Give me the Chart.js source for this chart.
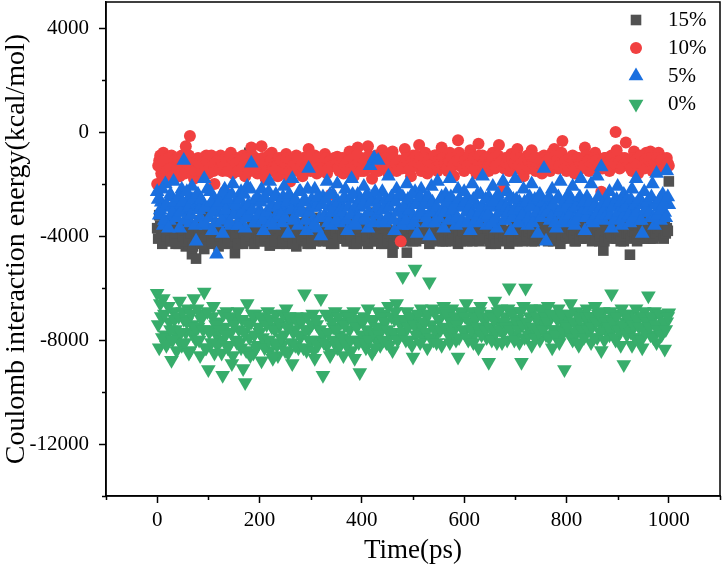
<!DOCTYPE html>
<html>
<head>
<meta charset="utf-8">
<script src="https://cdn.jsdelivr.net/npm/chart.js@4.4.0/dist/chart.umd.min.js"></script>
<style>
  body { margin: 0; background: #fff; }
  canvas { display: block; }
</style>
</head>
<body>
<canvas id="myChart" width="722" height="575"></canvas>
<script>
// values read off the plot; each series is sampled every 4 ps,
// the "b" arrays hold the samples in between (2 ps later)
const step = 4;

const labels = ['15%', '10%', '5%', '0%'];
const colors = ['#515151', '#F14040', '#1A6FDF', '#37AD6B'];

const xTicks = [0, 200, 400, 600, 800, 1000];
const xMinor = [-100, 100, 300, 500, 700, 900, 1100];
const yTicks = [-12000, -8000, -4000, 0, 4000];
const yMinor = [-14000, -10000, -6000, -2000, 2000];

const e15 = [
  -3700, -3200, -4000, -2800, -3600, -4200, -3400, -3900, -3000, -4300,
  -3500, -4100, -2900, -3800, -4400, -3300, -3900, -4700, -3600, -4870,
  -4200, -3400, -3900, -4500, -3100, -4000, -3700, -4300, -2900, -3800,
  -4400, -3500, -4100, -3200, -3900, -4300, -3600, -3000, -4660, -3800,
  -4000, -3400, -4300, -3700, -3200, -800, -4100, -3600, -3900, -4200,
  -3500, -4000, -3300, -3800, -4200, -4370, -3600, -3100, -4000, -3700,
  -4300, -3400, -3900, -4300, -3600, -4100, -3200, -3800, -4400, -3500,
  -4000, -3600, -4200, -3100, -3800, -4300, -3500, -3900, -4100, -3300,
  -3800, -4200, -3400, -4000, -3700, -4300, -3200, -3900, -4100, -1050,
  -3600, -4000, -3300, -4200, -3700, -3900, -4300, -3500, -4100, -3800,
  -4200, -3400, -3900, -4300, -3600, -4000, -3100, -3800, -4200, -3500,
  -3900, -4300, -3600, -4100, -3300, -4640, -3800, -4000, -3500, -4200,
  -3700, -4100, -4640, -3400, -3900, -4200, -3600, -4000, -3300, -3800,
  -4100, -3500, -3900, -4300, -3700, -3200, -4000, -3600, -4200, -3800,
  -3400, -4200, -3800, -3500, -4100, -3700, -3900, -4300, -3600, -4000,
  -3800, -4100, -3500, -3900, -4200, -3400, -3700, -4000, -3600, -4100,
  -3900, -3500, -4000, -4300, -3700, -3400, -4100, -3800, -3600, -4200,
  -3800, -3300, -4300, -4000, -3600, -3900, -4200, -3500, -3800, -4100,
  -3700, -4000, -3400, -4200, -3900, -3500, -4100, -3700, -3300, -4000,
  -3800, -4200, -3600, -3900, -3400, -4100, -3700, -4300, -3500, -3900,
  -4050, -3600, -4000, -3400, -4200, -3800, -3500, -4100, -3700, -3900,
  -3500, -4100, -3800, -3300, -4000, -3700, -4200, -3600, -4560, -3900,
  -3700, -4000, -3400, -3800, -1050, -4100, -3600, -3900, -4200, -3500,
  -3800, -4720, -3600, -4000, -3400, -3900, -4100, -3700, -3300, -4000,
  -3600, -4100, -3800, -3500, -4000, -3700, -3400, -3900, -3600, -3700,
  -1900
];
const e15b = [
  -4100, -3600, -4300, -3800, -4000, -3500, -4200, -3700, -4100, -3900,
  -4300, -3700, -4000, -4200, -3600, -4100, -3900, -4400, -3800, -4200,
  -3900, -4300, -3600, -4100, -4000, -3700, -4200, -3900, -4100, -3600,
  -4000, -3800, -4300, -3700, -4100, -3900, -4200, -3800, -4000, -4300,
  -3700, -4100, -3900, -4200, -3800, -4000, -3600, -4300, -3900, -4100,
  -4200, -3800, -4100, -3700, -4000, -4300, -3900, -4200, -3600, -4100,
  -3900, -4200, -3800, -4100, -4000, -3700, -4300, -3900, -4100, -3800,
  -4100, -3800, -4000, -4300, -3700, -4100, -3900, -4200, -3800, -4000,
  -3900, -4100, -3700, -4200, -3900, -4000, -4300, -3800, -4100, -3700,
  -4000, -3800, -4200, -3900, -4100, -3700, -4000, -4300, -3800, -4100,
  -3800, -4100, -4000, -3700, -4200, -3900, -4100, -3800, -4000, -4300,
  -4100, -3700, -4200, -3900, -4000, -4300, -3800, -4100, -3900, -3700,
  -4000, -4200, -3800, -4100, -3700, -4000, -4200, -3900, -4100, -3800,
  -3900, -4100, -3800, -4200, -3900, -4000, -3700, -4100, -3900, -4200,
  -4100, -3800, -4000, -4200, -3900, -4100, -3700, -4000, -4200, -3800,
  -3900, -4200, -3800, -4000, -3700, -4100, -3900, -4200, -3800, -4000,
  -4100, -3700, -4200, -3900, -4000, -4300, -3800, -4100, -3900, -4000,
  -3900, -4100, -3800, -4200, -4000, -3700, -4100, -3900, -4200, -3800,
  -4000, -3800, -4100, -3900, -4200, -3800, -4000, -3700, -4100, -3900,
  -4100, -3900, -4000, -4200, -3800, -4000, -3900, -4100, -3700, -4000,
  -3900, -4100, -3800, -4000, -4200, -3900, -4100, -3800, -4000, -3700,
  -4000, -3800, -4200, -3900, -4100, -3800, -4000, -3900, -4200, -3800,
  -4100, -3900, -4000, -3700, -4100, -3900, -4200, -3800, -4000, -3900,
  -3900, -4100, -3800, -4000, -4200, -3900, -4000, -3700, -4100, -3900,
  -4000, -3800, -4100, -3900, -3700, -4000, -3800, -4100, -3900, -3800
];

const e10 = [
  -2000, -1100, -1600, -800, -1400, -1900, -1200, -900, -1500, -1000,
  -1300, -1700, -900, -1200, -550, -1500, -150, -1100, -1800, -1300,
  -1000, -1400, -1700, -1200, -900, -1600, -1300, -1100, -2000, -1400,
  -1200, -900, -1500, -2300, -1100, -1300, -800, -1600, -1400, -1000,
  -1500, -1200, -900, -1700, -1300, -1100, -600, -1400, -1000, -1600,
  -1200, -550, -1400, -1800, -1000, -1300, -800, -1500, -1100, -1700,
  -1300, -1000, -1600, -850, -1200, -1900, -1100, -1400, -900, -1500,
  -1200, -1700, -1000, -1300, -650, -1500, -1100, -900, -1600, -1200,
  -1400, -1000, -850, -1600, -1200, -2400, -1100, -1300, -950, -1500,
  -1200, -1600, -1000, -1400, -750, -1300, -1700, -1100, -600, -1400,
  -1000, -1500, -1200, -550, -1300, -1800, -1100, -900, -1500, -1200,
  -700, -1400, -1100, -1600, -1000, -750, -1300, -1500, -1200, -4200,
  -1100, -650, -1400, -1200, -1700, -900, -1300, -1100, -500, -1500,
  -1200, -800, -1600, -1000, -1400, -1200, -900, -1500, -1100, -600,
  -1300, -1000, -1500, -800, -1200, -1700, -950, -320, -1300, -1100,
  -1500, -1000, -1200, -700, -1400, -1100, -1600, -450, -1200, -900,
  -1300, -1000, -1500, -1200, -800, -1400, -1100, -500, -1300, -2200,
  -1000, -1200, -1500, -850, -1300, -1100, -650, -1400, -1200, -1700,
  -1100, -900, -1400, -700, -1300, -1500, -1000, -1200, -1600, -900,
  -1300, -1100, -1500, -800, -650, -1200, -1400, -1000, -350, -1300,
  -1500, -1100, -1300, -900, -1600, -1200, -1000, -1400, -1100, -600,
  -1300, -1500, -1000, -1200, -800, -1400, -1100, -2300, -1300, -1000,
  -1200, -1500, -900, -1300, 0, -1100, -1400, -1000, -1200, -400,
  -1300, -1100, -1500, -750, -1200, -1600, -1000, -1300, -1400, -800,
  -1200, -750, -1500, -1100, -1300, -800, -1400, -1000, -1200, -1000,
  -1300
];
const e10b = [
  -1300, -900, -1700, -1100, -1500, -1000, -1400, -1700, -1100, -1300,
  -1100, -1400, -1000, -1600, -1200, -900, -1400, -1200, -1500, -1100,
  -1200, -1500, -1000, -1300, -1100, -1400, -900, -1500, -1200, -1100,
  -1400, -1100, -1300, -1000, -1500, -900, -1300, -1100, -1200, -1500,
  -1100, -1400, -1300, -1000, -1200, -1500, -900, -1200, -1400, -1100,
  -1300, -1000, -1200, -1500, -900, -1100, -1400, -1200, -1300, -1000,
  -1100, -1400, -1200, -1000, -1500, -1100, -1300, -1200, -1000, -1400,
  -1300, -1000, -1400, -1100, -1200, -900, -1400, -1300, -1000, -1500,
  -1200, -1300, -1000, -1400, -1100, -1300, -1000, -1200, -1400, -1100,
  -1000, -1300, -1200, -1100, -1400, -1000, -1300, -900, -1200, -1500,
  -1300, -1100, -1400, -900, -1200, -1100, -1400, -1000, -1300, -1100,
  -1200, -1000, -1300, -1200, -1400, -1000, -1200, -1300, -1100, -1400,
  -1300, -1000, -1200, -1400, -1100, -1300, -900, -1200, -1000, -1300,
  -1000, -1300, -1100, -1400, -1200, -900, -1300, -1100, -1200, -1000,
  -1200, -1400, -1100, -1000, -1300, -1200, -1100, -800, -1000, -1300,
  -1100, -1300, -900, -1200, -1000, -1400, -1100, -900, -1300, -1200,
  -1000, -1300, -1200, -1100, -1000, -1300, -900, -1200, -1100, -1400,
  -1200, -1000, -1300, -1100, -1200, -900, -1300, -1000, -1400, -1100,
  -1300, -1100, -900, -1200, -1000, -1300, -1200, -1100, -1400, -1000,
  -1100, -1300, -1000, -1200, -900, -1100, -1300, -800, -1200, -1100,
  -1300, -1000, -1200, -1100, -1400, -1000, -1200, -1100, -1300, -900,
  -1100, -1300, -1200, -1000, -1100, -1300, -1200, -1400, -1000, -1200,
  -1300, -1100, -1000, -1200, -700, -1200, -1100, -1300, -1000, -1100,
  -1200, -1400, -1000, -1100, -1300, -1200, -900, -1300, -1100, -1000,
  -1100, -1000, -1300, -1200, -1000, -1200, -1100, -1400, -1300, -1200
];

const e5 = [
  -2300, -3200, -2700, -3600, -2000, -2900, -3400, -2500, -1900, -3100,
  -2800, -3700, -2200, -1100, -3000, -2600, -3500, -2100, -2900, -4200,
  -2400, -3300, -2700, -1800, -3600, -2900, -2300, -3800, -2600, -4700,
  -3100, -2500, -3900, -2200, -3300, -2800, -3600, -2000, -3000, -2600,
  -3400, -2300, -2900, -3700, -2100, -3200, -1200, -2700, -3500, -2500,
  -3000, -2200, -3800, -2600, -3300, -1900, -2800, -3600, -2400, -3100,
  -2700, -3500, -2100, -3000, -3900, -2500, -1800, -3300, -2800, -3600,
  -2300, -3100, -2600, -3800, -1400, -2900, -3400, -2200, -3700, -2700,
  -4000, -2500, -3200, -1900, -2900, -3600, -2400, -3100, -2000, -3500,
  -2800, -3300, -2200, -3800, -2600, -1800, -3100, -3600, -2400, -2900,
  -3400, -2100, -2700, -3700, -1300, -2500, -1000, -3200, -1100, -3000,
  -2300, -3500, -2800, -1700, -3300, -2600, -3800, -2200, -3000, -3400,
  -2500, -3100, -2000, -3600, -2700, -3300, -2300, -3900, -2800, -2200,
  -3200, -2600, -3500, -4000, -2100, -2900, -3400, -1900, -3100, -2500,
  -3700, -2400, -3000, -1800, -3300, -2700, -3600, -2200, -2900, -3400,
  -2300, -3100, -2600, -3800, -2000, -3200, -2800, -3500, -2400, -1700,
  -3000, -3600, -2500, -3300, -2100, -2900, -3700, -2600, -3100, -1900,
  -3400, -2300, -2900, -3800, -2600, -1800, -3200, -2700, -3500, -2200,
  -3000, -3600, -2500, -2000, -3300, -2800, -3900, -2400, -3100, -1400,
  -4200, -2700, -3400, -2200, -3000, -3700, -2500, -1900, -3200, -2800,
  -3500, -2400, -3000, -2100, -3600, -2700, -3300, -1800, -2900, -3800,
  -2500, -3200, -2000, -3500, -2800, -1700, -3100, -1350, -3400, -2600,
  -3000, -2300, -3700, -2700, -3300, -2100, -2900, -3600, -2400, -3200,
  -2800, -3500, -2200, -3000, -1800, -3400, -2600, -3900, -2300, -3100,
  -2700, -3300, -2000, -3600, -1600, -2900, -3400, -2400, -3100, -1500,
  -2800
];
const e5b = [
  -2600, -3000, -2200, -3400, -2800, -3700, -2400, -3100, -2700, -3300,
  -2500, -3100, -2700, -3400, -2300, -2900, -3200, -2600, -3600, -2400,
  -3000, -2600, -3500, -2900, -2200, -3300, -2700, -3100, -3500, -2800,
  -2700, -3400, -2300, -3000, -2600, -3500, -2400, -3200, -2800, -3600,
  -2600, -3100, -2400, -3300, -2800, -2200, -3000, -3500, -2600, -3200,
  -2700, -3400, -2500, -3100, -2300, -3500, -2900, -2500, -3300, -2800,
  -3200, -2500, -3300, -2700, -2400, -3000, -3400, -2600, -3100, -2300,
  -3000, -2700, -3400, -2200, -3100, -2600, -3600, -2900, -2500, -3300,
  -2800, -3300, -2600, -3500, -2400, -3100, -2800, -3400, -2700, -3000,
  -3100, -2500, -3400, -2900, -3200, -2400, -3500, -2800, -3300, -2600,
  -2800, -3300, -2400, -3100, -2700, -3500, -2300, -2900, -2600, -3400,
  -3000, -2600, -3300, -2900, -2500, -3400, -2700, -3100, -2400, -3600,
  -2900, -3400, -2600, -3000, -2400, -3500, -2800, -3200, -2500, -3100,
  -2800, -3300, -2500, -3100, -2700, -3500, -2900, -3300, -2600, -3000,
  -3100, -2700, -3400, -2500, -3000, -2800, -3300, -2600, -3500, -2800,
  -2700, -3500, -2900, -3200, -2600, -3400, -2400, -3100, -2900, -3300,
  -2600, -3200, -2800, -3500, -2700, -3300, -2400, -3100, -2800, -3400,
  -2900, -3100, -2500, -3300, -3000, -2600, -3500, -2900, -3200, -2700,
  -2700, -3300, -2900, -3500, -2600, -3100, -2500, -3300, -2700, -3000,
  -3100, -2500, -3300, -2800, -3500, -2600, -3100, -2900, -3400, -2600,
  -2800, -3200, -2600, -3400, -2900, -3300, -2500, -3100, -2700, -3300,
  -3000, -2700, -3400, -2900, -3200, -2500, -3300, -2800, -3000, -3200,
  -2700, -3200, -2900, -3400, -2600, -3100, -2700, -3300, -2900, -2600,
  -3200, -2600, -3300, -2800, -3100, -2600, -3400, -2800, -3000, -2700,
  -3100, -2500, -3300, -2800, -3200, -2600, -3000, -2800, -3300, -2500
];

const e0 = [
  -6200, -8300, -7100, -6400, -7800, -8100, -7300, -8780, -6900, -7600,
  -7900, -6500, -8200, -7200, -7700, -6800, -8400, -7400, -6400, -8000,
  -7500, -8600, -7000, -6150, -8300, -9130, -7600, -7100, -8500, -7800,
  -7300, -8000, -9360, -7500, -6900, -8200, -7700, -8600, -7200, -8100,
  -7600, -8300, -9100, -9630, -6600, -7900, -7300, -8500, -7000, -8200,
  -7700, -8800, -7200, -8000, -6900, -8400, -7500, -8100, -7000, -8600,
  -7400, -8200, -7800, -6800, -8500, -7300, -8900, -7600, -7100, -8300,
  -7900, -7200, -6220, -8400, -7600, -8100, -7000, -8700, -7400, -8000,
  -6400, -9360, -7700, -8200, -7100, -8500, -7500, -6900, -8300, -7800,
  -7300, -8600, -7000, -8100, -7600, -8400, -6900, -8000, -7400, -9250,
  -7800, -7100, -8300, -6800, -7700, -8500, -7200, -8000, -6900, -8200,
  -7500, -7000, -8100, -6700, -7800, -8400, -7200, -6600, -7900, -7400,
  -5560, -7700, -6900, -8000, -7300, -8650, -5270, -7100, -7600, -6800,
  -7900, -7000, -8300, -5760, -7400, -8000, -6900, -7700, -7200, -8200,
  -6700, -7600, -7100, -8100, -6800, -7500, -8000, -8650, -7200, -7000,
  -7700, -6600, -8000, -7300, -6900, -7800, -7100, -8300, -6700, -7500,
  -7200, -7900, -8860, -7000, -7600, -6500, -8100, -7300, -6800, -7700,
  -7100, -8000, -5990, -7400, -6900, -7800, -7200, -8100, -8860, -6700,
  -6000, -7500, -7100, -8200, -6800, -7600, -7300, -8000, -6900, -7400,
  -7800, -6700, -7200, -8300, -7000, -7600, -6800, -7900, -7300, -9130,
  -7100, -7700, -6600, -8000, -7300, -6900, -8200, -7500, -7000, -7800,
  -6800, -7400, -8100, -7100, -6700, -7900, -7300, -8400, -6900, -7600,
  -7200, -7800, -6220, -7500, -8000, -7000, -7700, -6800, -8940, -7300,
  -7600, -7000, -8200, -7300, -6800, -7900, -7100, -8300, -6900, -7500,
  -6300, -7800, -7200, -6900, -8100, -7400, -7000, -7700, -8350, -7300,
  -6950
];
const e0b = [
  -7400, -6600, -7900, -7000, -8200, -6700, -7600, -8000, -7200, -8400,
  -7100, -7700, -6900, -8100, -7300, -8500, -7000, -7800, -7500, -6800,
  -8000, -7200, -7600, -8300, -6900, -7700, -8100, -6700, -7400, -8200,
  -7600, -8500, -7000, -7800, -8300, -7100, -8900, -7400, -8000, -6900,
  -8100, -7200, -7700, -8400, -7400, -8600, -7000, -7800, -8300, -7500,
  -7100, -7900, -8300, -7400, -8000, -7200, -8700, -7600, -8200, -7300,
  -7900, -7000, -8400, -7500, -7100, -8100, -7700, -8200, -7300, -7800,
  -7300, -8300, -7600, -7100, -8000, -7400, -8400, -7200, -8200, -7600,
  -7700, -8100, -7000, -7700, -8600, -7300, -8000, -7600, -7100, -8200,
  -7900, -7400, -8200, -7100, -8000, -7300, -8700, -7500, -8100, -7200,
  -7300, -8100, -7600, -8000, -7200, -7700, -8300, -7500, -7800, -7100,
  -8000, -7300, -7600, -8200, -7100, -7700, -6900, -8000, -7300, -7700,
  -7200, -8000, -7500, -7100, -8200, -7400, -7800, -7000, -8100, -7500,
  -7300, -7700, -7000, -7900, -6800, -7600, -8100, -7200, -7600, -6900,
  -7500, -7000, -7800, -7300, -7700, -7100, -7400, -7900, -6900, -7600,
  -7100, -7900, -7300, -7600, -8100, -7200, -7500, -6900, -7800, -7200,
  -7600, -7100, -7500, -8000, -7200, -7700, -6900, -7600, -8100, -7300,
  -7500, -6800, -7600, -7000, -8000, -7300, -7600, -6900, -7400, -7900,
  -7300, -7800, -6800, -7500, -7900, -7100, -7700, -6800, -7600, -7100,
  -7300, -7900, -7000, -7600, -7800, -7200, -8100, -7000, -7700, -7400,
  -7500, -7000, -7900, -7300, -7700, -8100, -7200, -7600, -7900, -7100,
  -7600, -7100, -7500, -7900, -7300, -7000, -7700, -7200, -8000, -7300,
  -7500, -6900, -7300, -7900, -7100, -7600, -8200, -7400, -7000, -7800,
  -7200, -7700, -7400, -7900, -7200, -7500, -8000, -7100, -7700, -7300,
  -7500, -7100, -7900, -7400, -7600, -7000, -7800, -7300, -7600, -7100
];

const toPoints = (arr, t0) => arr.map((v, i) => ({x: t0 + i * step, y: v}));
const series = (a, b) => toPoints(a, 0).concat(toPoints(b, step / 2));
const serif = "'Liberation Serif', 'Times New Roman', serif";

// no extra room for half-labels at the axis ends
const noPad = s => { s.paddingTop = 0; s.paddingBottom = 0; s.paddingLeft = 0; s.paddingRight = 0; };

// draws box, minor ticks and the legend inside the plot
const frame = {
  id: 'frame',
  afterDraw(chart) {
    const {ctx, chartArea: a, scales} = chart;
    ctx.save();
    ctx.strokeStyle = '#000';
    ctx.lineWidth = 1.5;
    ctx.strokeRect(a.left, a.top, a.right - a.left, a.bottom - a.top);

    ctx.beginPath();
    xMinor.forEach(v => {
      const px = Math.round(scales.x.getPixelForValue(v)) + 0.5;
      ctx.moveTo(px, a.bottom); ctx.lineTo(px, a.bottom + 4);
    });
    yMinor.forEach(v => {
      const py = Math.round(scales.y.getPixelForValue(v)) + 0.5;
      ctx.moveTo(a.left, py); ctx.lineTo(a.left - 4, py);
    });
    ctx.stroke();

    const lx = 636, tx = 668;
    const rows = [20, 48, 76, 104];
    ctx.font = '21px ' + serif;
    ctx.textBaseline = 'middle';
    ctx.textAlign = 'left';
    labels.forEach((lab, i) => {
      const y = rows[i];
      ctx.fillStyle = colors[i];
      ctx.beginPath();
      if (i === 0) ctx.rect(lx - 5.3, y - 5.3, 10.6, 10.6);
      else if (i === 1) ctx.arc(lx, y, 6, 0, Math.PI * 2);
      else if (i === 2) { ctx.moveTo(lx, y - 8.5); ctx.lineTo(lx + 7.4, y + 4.25); ctx.lineTo(lx - 7.4, y + 4.25); }
      else { ctx.moveTo(lx, y + 8.5); ctx.lineTo(lx + 7.4, y - 4.25); ctx.lineTo(lx - 7.4, y - 4.25); }
      ctx.fill();
      ctx.fillStyle = '#000';
      ctx.fillText(lab, tx, y);
    });
    ctx.restore();
  }
};

let myChart = document.getElementById('myChart').getContext('2d');

new Chart(myChart, {
  type: 'scatter',
  data: {
    // drawn last-to-first, so 0% ends on top and 15% at the bottom
    datasets: [
      {label: labels[3], data: series(e0, e0b), backgroundColor: colors[3], pointStyle: 'triangle', rotation: 180, pointRadius: 8.5, borderWidth: 0},
      {label: labels[2], data: series(e5, e5b), backgroundColor: colors[2], pointStyle: 'triangle', pointRadius: 8.5, borderWidth: 0},
      {label: labels[1], data: series(e10, e10b), backgroundColor: colors[1], pointStyle: 'circle', pointRadius: 6, borderWidth: 0},
      {label: labels[0], data: series(e15, e15b), backgroundColor: colors[0], pointStyle: 'rect', pointRadius: 7.5, borderWidth: 0}
    ]
  },
  options: {
    responsive: false,
    animation: false,
    events: [],
    layout: {autoPadding: false, padding: {top: 2, right: 2, left: 0, bottom: 0}},
    plugins: {legend: {display: false}, tooltip: {enabled: false}},
    scales: {
      x: {
        type: 'linear',
        min: -100, max: 1100,
        afterBuildTicks: s => { s.ticks = xTicks.map(v => ({value: v})); },
        afterFit: s => { s.height = 79; noPad(s); },
        grid: {drawOnChartArea: false, tickLength: 7, tickColor: '#000', tickWidth: 1.5},
        border: {color: '#000', width: 1.5},
        ticks: {color: '#000', font: {family: serif, size: 21}, padding: 5, maxRotation: 0, callback: v => String(v)},
        title: {display: true, text: 'Time(ps)', color: '#000', font: {family: serif, size: 27}, padding: {top: 0, bottom: 8}}
      },
      y: {
        min: -14000, max: 5000,
        afterBuildTicks: s => { s.ticks = yTicks.map(v => ({value: v})); },
        afterFit: s => { s.width = 106; noPad(s); },
        grid: {drawOnChartArea: false, tickLength: 7, tickColor: '#000', tickWidth: 1.5},
        border: {color: '#000', width: 1.5},
        ticks: {color: '#000', font: {family: serif, size: 21}, padding: 10, callback: v => String(v)},
        title: {display: true, text: 'Coulomb interaction energy(kcal/mol)', color: '#000', font: {family: serif, size: 28}, padding: {top: 0, bottom: 0}}
      }
    }
  },
  plugins: [frame]
});
</script>
</body>
</html>
